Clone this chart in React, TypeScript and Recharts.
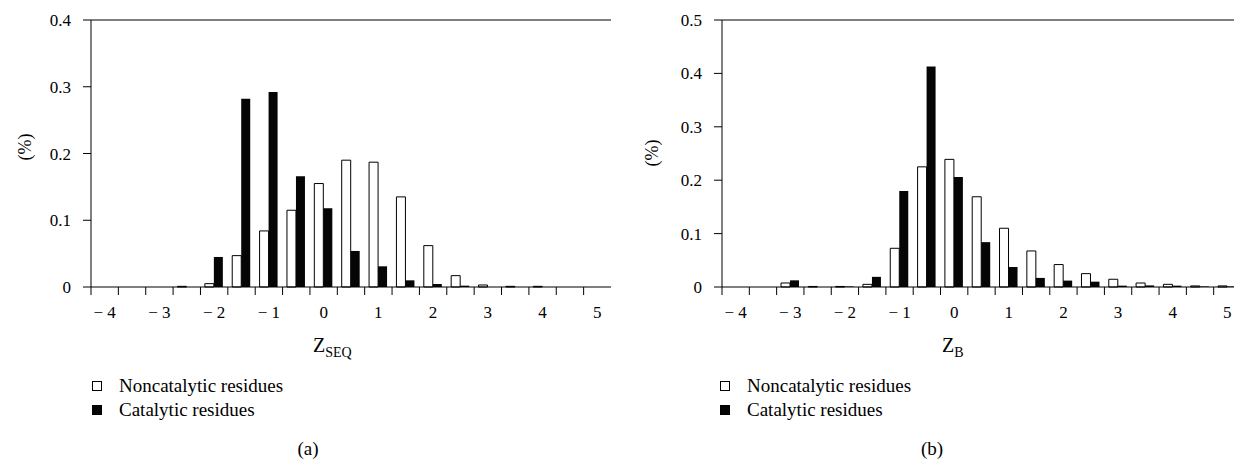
import { BarChart, Bar, XAxis, YAxis, ReferenceLine } from "recharts";

// bin centres (same bins in both panels)
const bins = [-4, -3.5, -3, -2.5, -2, -1.5, -1, -0.5, 0, 0.5, 1, 1.5, 2, 2.5, 3, 3.5, 4, 4.5, 5];

// panel (a): Z_SEQ
const seqNonCatalytic = [0, 0, 0, 0.001, 0.005, 0.047, 0.084, 0.115, 0.155, 0.19, 0.187, 0.135, 0.062, 0.017, 0.003, 0.001, 0.001, 0, 0];
const seqCatalytic = [0, 0, 0, 0, 0.045, 0.282, 0.292, 0.166, 0.118, 0.054, 0.031, 0.01, 0.0045, 0.002, 0, 0, 0, 0, 0];

// panel (b): Z_B
const bNonCatalytic = [0, 0, 0.0075, 0.001, 0.001, 0.005, 0.0725, 0.225, 0.239, 0.169, 0.11, 0.0675, 0.042, 0.025, 0.0145, 0.0075, 0.005, 0.002, 0.002];
const bCatalytic = [0, 0, 0.0125, 0, 0.001, 0.019, 0.18, 0.413, 0.206, 0.084, 0.0375, 0.017, 0.012, 0.01, 0.0025, 0.003, 0.0025, 0.001, 0.001];

const seqTicks = [0, 0.1, 0.2, 0.3, 0.4];
const bTicks = [0, 0.1, 0.2, 0.3, 0.4, 0.5];

const seriesNames = ["Noncatalytic residues", "Catalytic residues"];

const FONT = "Liberation Serif, DejaVu Serif, serif";
const PLOT_TOP = 20;
const PLOT_BOTTOM = 287;
const CHART_H = 459;

const toRows = (a: number[], b: number[]) =>
    bins.map((bin, i) => ({ bin, noncat: a[i], cat: b[i] }));

const fmtY = (v: number) => (v === 0 ? "0" : v.toFixed(1));

const BinTick = (props: any) => {
    const { x, payload, band } = props;
    const v = Number(payload.value);
    const left = x - band / 2;
    const label = Number.isInteger(v) ? (v < 0 ? `\u2212 ${-v}` : `${v}`) : null;
    return (
        <g>
            <line x1={left} x2={left} y1={PLOT_BOTTOM} y2={PLOT_BOTTOM + 8} stroke="#000" />
            {label && (
                <text x={x} y={PLOT_BOTTOM + 31} textAnchor="middle" fontSize={17} style={{ fontFamily: FONT }} fill="#000">
                    {label}
                </text>
            )}
        </g>
    );
};

type PanelProps = {
    left: number;
    width: number;
    rightMargin: number;
    yWidth: number;
    nonCat: number[];
    cat: number[];
    ticks: number[];
    sub: string;
    zX: number;
    pctX: number;
    pctY: number;
};

const Panel = ({ left, width, rightMargin, yWidth, nonCat, cat, ticks, sub, zX, pctX, pctY }: PanelProps) => {
    const band = (width - rightMargin - yWidth) / bins.length;
    const top = ticks[ticks.length - 1];
    return (
        <div style={{ position: "absolute", left, top: 0, fontFamily: FONT }}>
            <BarChart
                width={width}
                height={CHART_H}
                data={toRows(nonCat, cat)}
                margin={{ top: PLOT_TOP, right: rightMargin, left: 0, bottom: 0 }}
                barGap={0}
                barCategoryGap="16%"
                style={{ fontFamily: FONT }}
            >
                <XAxis
                    dataKey="bin"
                    height={CHART_H - PLOT_BOTTOM}
                    interval={0}
                    tickLine={false}
                    axisLine={{ stroke: "#000" }}
                    tick={(p: any) => <BinTick {...p} band={band} />}
                    label={{
                        content: () => (
                            <text x={zX} y={PLOT_BOTTOM + 65} fontSize={20} style={{ fontFamily: FONT }} fill="#000">
                                Z
                                <tspan fontSize={14} dy={5}>{sub}</tspan>
                            </text>
                        ),
                    }}
                />
                <YAxis
                    width={yWidth}
                    domain={[0, top]}
                    ticks={ticks}
                    interval={0}
                    tickFormatter={fmtY}
                    tickSize={8}
                    tickMargin={12}
                    axisLine={{ stroke: "#000" }}
                    tickLine={{ stroke: "#000" }}
                    tick={{ fontSize: 17, fill: "#000", style: { fontFamily: FONT } }}
                    label={{
                        content: () => (
                            <text
                                x={pctX}
                                y={pctY}
                                transform={`rotate(-90 ${pctX} ${pctY})`}
                                textAnchor="middle"
                                dominantBaseline="central"
                                fontSize={18}
                                style={{ fontFamily: FONT }}
                                fill="#000"
                            >
                                (%)
                            </text>
                        ),
                    }}
                />
                <ReferenceLine y={top} stroke="#000" />
                <Bar dataKey="noncat" name={seriesNames[0]} fill="#fff" stroke="#000" strokeWidth={1} isAnimationActive={false} />
                <Bar dataKey="cat" name={seriesNames[1]} fill="#050505" isAnimationActive={false} />
            </BarChart>
        </div>
    );
};

const LegendBlock = ({ left, top }: { left: number; top: number }) => (
    <div style={{ position: "absolute", left, top, fontFamily: FONT, fontSize: 19, lineHeight: "24px", color: "#000" }}>
        {seriesNames.map((n, i) => (
            <div key={n} style={{ display: "flex", alignItems: "center", whiteSpace: "nowrap" }}>
                <span
                    style={{
                        display: "inline-block",
                        width: 8,
                        height: 8,
                        border: "1px solid #000",
                        background: i === 0 ? "#fff" : "#050505",
                        marginRight: 17,
                    }}
                />
                {n}
            </div>
        ))}
    </div>
);

const Caption = ({ x, text }: { x: number; text: string }) => (
    <div
        style={{
            position: "absolute",
            left: x - 30,
            width: 60,
            top: 437,
            textAlign: "center",
            fontFamily: FONT,
            fontSize: 19,
            lineHeight: "24px",
            color: "#000",
        }}
    >
        {text}
    </div>
);

export default function App() {
    return (
        <div style={{ position: "absolute", left: 0, top: 0, width: 1234, height: 459, overflow: "hidden", background: "#fff", fontFamily: FONT }}>
            <Panel left={0} width={640} rightMargin={29} yWidth={91} nonCat={seqNonCatalytic} cat={seqCatalytic} ticks={seqTicks} sub="SEQ" zX={313} pctX={25} pctY={147} />
            <Panel left={630} width={620} rightMargin={9} yWidth={92} nonCat={bNonCatalytic} cat={bCatalytic} ticks={bTicks} sub="B" zX={312} pctX={22} pctY={153} />
            <LegendBlock left={92} top={374} />
            <LegendBlock left={720} top={374} />
            <Caption x={308} text="(a)" />
            <Caption x={932} text="(b)" />
        </div>
    );
}
